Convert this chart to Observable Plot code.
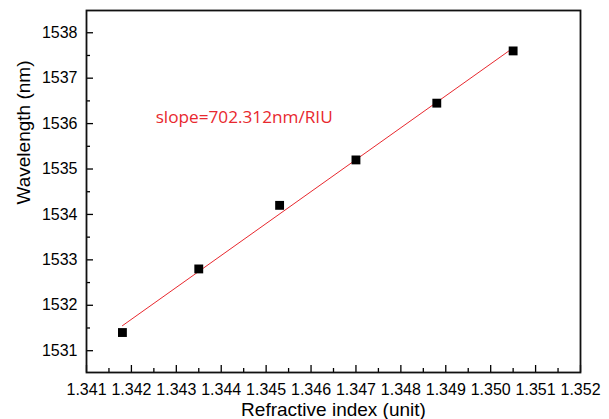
<!DOCTYPE html>
<html><head><meta charset="utf-8">
<script src="https://cdn.jsdelivr.net/npm/d3@7"></script>
<script src="https://cdn.jsdelivr.net/npm/@observablehq/plot@0.6"></script>
<style>body{margin:0;background:#fff}</style>
</head><body><div id="chart"></div>
<script>
const refractiveIndex = [1.3418, 1.3435, 1.3453, 1.3470, 1.3488, 1.3505];
const wavelength = [1531.4, 1532.8, 1534.2, 1535.2, 1536.45, 1537.6];
const xTicks = [1.341,1.342,1.343,1.344,1.345,1.346,1.347,1.348,1.349,1.350,1.351,1.352];
const xMinorTicks = [1.3415,1.3425,1.3435,1.3445,1.3455,1.3465,1.3475,1.3485,1.3495,1.3505,1.3515];
const yTicks = [1531,1532,1533,1534,1535,1536,1537,1538];
const yMinorTicks = [1531.5,1532.5,1533.5,1534.5,1535.5,1536.5,1537.5];
const annotationText = ["slope=702.312nm/RIU"];
const annotationX = [1.34254];
const annotationY = [1536.14];

const data = refractiveIndex.map((x, i) => ({x, y: wavelength[i]}));
const notes = annotationText.map((t, i) => ({t, x: annotationX[i], y: annotationY[i]}));
const red = "#e8282e";

const chart = Plot.plot({
  width: 609, height: 419,
  marginLeft: 86, marginRight: 29, marginTop: 10, marginBottom: 47,
  style: {fontFamily: "'Liberation Sans', Arial, sans-serif", fontSize: "16px", background: "#fff", color: "#000"},
  x: {domain: [1.341, 1.352]},
  y: {domain: [1530.52, 1538.49]},
  marks: [
    Plot.axisX({ticks: xTicks, tickFormat: d3.format(".3f"), tickSize: -7, tickPadding: 18, fontSize: 16, label: null, strokeWidth: 1.3}),
    Plot.axisX({ticks: xMinorTicks, tickFormat: () => "", tickSize: -4, label: null, strokeWidth: 1.3}),
    Plot.axisY({ticks: yTicks, tickFormat: d => String(d), tickSize: -7, tickPadding: 16, fontSize: 16, label: null, strokeWidth: 1.3}),
    Plot.axisY({ticks: yMinorTicks, tickFormat: () => "", tickSize: -4, label: null, strokeWidth: 1.3}),
    Plot.frame({stroke: "#111", strokeWidth: 1.8}),
    Plot.linearRegressionY(data, {x: "x", y: "y", ci: 0, stroke: red, strokeWidth: 1}),
    Plot.dot(data, {x: "x", y: "y", symbol: "square", r: 5, fill: "#000", stroke: "none"}),
    Plot.text(notes, {x: "x", y: "y", text: "t", textAnchor: "start", fill: red, fontSize: 17.2, fontFamily: "'Open Sans', sans-serif"}),
    Plot.text(["Wavelength (nm)"], {frameAnchor: "left", dx: -63, dy: 13, rotate: -90, fontSize: 19, text: d => d, lineAnchor: "middle"}),
    Plot.text(["Refractive index (unit)"], {frameAnchor: "bottom", dy: 37, fontSize: 19, text: d => d, lineAnchor: "middle"})
  ]
});
document.getElementById("chart").append(chart);
</script>
</body></html>
